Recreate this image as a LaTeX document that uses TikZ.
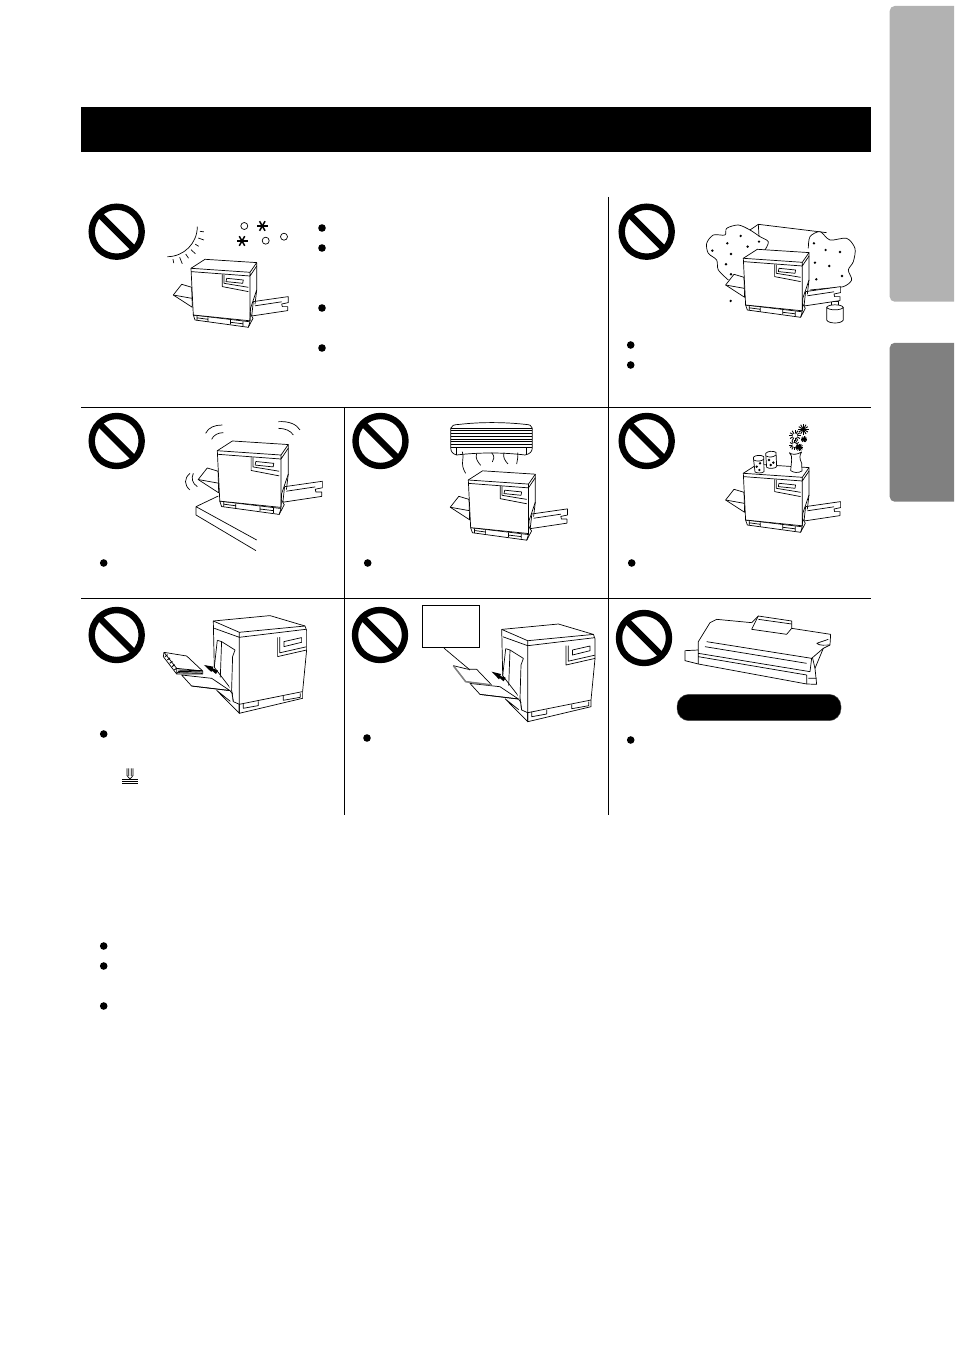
\documentclass[tikz,border=0pt]{standalone}
\definecolor{tablight}{gray}{0.70}
\definecolor{tabdark}{gray}{0.50}
\tikzset{
 sketch/.style = {line width=0.7pt, line join=round},% line art
 rule/.style = {line width=1pt},% cell rules
 bullet/.style = {fill=black, draw=none},
 nosign/.pic = {
    \draw[line width=6.4pt] (0,0) circle[radius=25];
    \draw[line width=6.4pt] (-17.7,-17.7) -- (17.7,17.7);
    },
 burst/.pic = {
    \foreach \a in {0,60,120}
        \draw[line width=1.5pt] (\a:5.5) -- (\a+180:5.5);
    },
 printer/.pic = {
    % trays
    \draw[sketch, fill=white] (62.3,33.3) -- (97.3,28.3) -- (97.3,34.3) -- (90.7,35.7) -- (91.3,38.3)
        -- (96.7,38.3) -- (96.7,42.3) -- (60.7,47.7) -- cycle;
    \draw[sketch] (64,37.5) -- (90.7,33.5);
    \draw[sketch, fill=white] (0.7,19) -- (-9.3,16) -- (-17.7,26.7) -- (1.3,39) -- cycle;
    \draw[sketch] (-17.7,26.7) -- (0.7,30);
    % base and feet
    \draw[sketch, fill=white] (2.3,46.7) -- (4,51.7) -- (57.3,59) -- (62,50) -- (59,45) -- cycle;
    \draw[sketch] (2.3,46.7) -- (59,53.5) -- (57.3,59);
    \draw[sketch] (6,47.5) -- (6,52) (17,49) -- (17,53.5) (6,49.5) -- (17,51)
        (39.5,51.5) -- (39.5,56) (52,53) -- (52,57.5) (39.5,54) -- (52,55.5);
    % body
    \draw[sketch, fill=white] (0,0) -- (14,-9) -- (65.7,-5.7) -- (65.7,21.7) -- (59.5,40) -- (59,52.5)
        -- (2.3,46.7) -- cycle;
    \draw[sketch] (0,0) -- (59,4) -- (65.7,-5.7) (0,3.3) -- (59,7.7) -- (65.7,-2.3)
        (59,4) -- (59,52.5) (65.7,21.7) -- (64,36);
    \draw[sketch] (31.3,6) -- (31.3,18.3) -- (57.3,23.3) (33,6.2) -- (33,15) -- (57.3,19)
        (35.7,10) -- (52.3,11.7) -- (51.7,15) -- (35,13.3) -- cycle;
    },
 printerside/.pic = {
    % feed tray behind the body
    \draw[sketch, fill=white] (-47.7,53.7) -- (-57.7,42.7) -- (-27.7,46) -- (-9.3,58.3) -- cycle;
    \draw[sketch] (-22.7,58) -- (0,81) -- (0,72) (-22.7,58) -- (-9,69);
    % body
    \draw[sketch, fill=white] (-26,-11.3) -- (30.7,-16.7) -- (65.7,-6.3) -- (67.3,-2) -- (67.3,18)
        -- (63.3,59.3) -- (63.3,66) -- (0,81) -- (0,72) -- (-6,69.3) -- (-8,57) -- (-25,35) -- cycle;
    \draw[sketch] (-26,-11.3) -- (0,0) -- (65.7,-6.3) (-25,-4) -- (0,5) -- (66.7,-3)
        (0,0) -- (0,81) (0,72) -- (63.3,59.3);
    % feed opening
    \draw[sketch, fill=white] (-22,8) -- (-17.7,9.3) -- (-4.3,17.7) -- (-6.7,24.3) -- (-7.7,57.7) -- (-6,69.3);
    \draw[sketch] (-22,8) -- (-25,35) (-17.7,9.3) -- (-19,45);
    \draw[sketch] (-47.7,53.7) -- (-9.3,58.3) -- (-6.5,62);
    % feet
    \draw[sketch] (4,71) -- (4,76) -- (19,73.3) -- (19,69) (44,63.7) -- (44,68) -- (61,65) -- (61,61);
    % panel
    \draw[sketch] (38.3,5) -- (38.3,24.3) -- (67.3,17.7) (40.5,4.8) -- (40.5,20.5) -- (67,14.5)
        (44.7,9.3) -- (62.3,5.3) -- (62.3,10) -- (44.7,14.3) -- cycle;
    },
}
\begin{document}
\begin{tikzpicture}[x=1pt,y=-1pt]
\useasboundingbox (0,0) rectangle (954,1351);

% side tabs
\begin{scope}
\clip (0,0) rectangle (954,1351);
\fill[tablight, rounded corners=5pt] (889.7,6) rectangle (965,301.7);
\fill[tabdark, rounded corners=5pt] (889.7,342.8) rectangle (965,501.7);
\end{scope}

% title bar and rules
\fill[black] (81,107) rectangle (871,152);
\draw[rule] (81,407.5) -- (871,407.5);
\draw[rule] (81,598.5) -- (871,598.5);
\draw[rule] (608.5,197) -- (608.5,815);
\draw[rule] (344.5,407.5) -- (344.5,815);

% prohibition signs
\foreach \x/\y in {116.7/231.7,646.7/231.7,116.7/441,380.5/441,646.7/441,116.7/635,380/635,644/638}
    \pic at (\x,\y) {nosign};

% bullets
\foreach \x/\y in {322/228,322/248,322/308,322/348,630.7/345,630.7/365,103.7/563,367.7/563,631.7/563,
                   103.7/734,367/738,630.7/740,103.7/946,103.7/966,103.7/1006}
    \fill[bullet] (\x,\y) circle[radius=3.8];

% sun, snow and steam
\begin{scope}[shift={(167.3,226.7)}]
\draw[sketch] (30,0) arc[start angle=0,end angle=90,radius=30];
\foreach \a/\r in {8/37,20/39,32/37,44/39,56/38,68/40,80/37}
    \draw[sketch] (\a:33) -- (\a:\r);
\end{scope}
\pic at (262.3,226) {burst};
\pic at (242,241) {burst};
\foreach \x/\y in {244.3/226,265.7/240.7,284/236.7}
    \draw[sketch] (\x,\y) circle[radius=3.5];
\pic at (191,268.3) {printer};

% dust and clouds
\begin{scope}[shift={(610,190)},scale=0.3333]
\draw[sketch, fill=white] plot[smooth] coordinates {(355,270) (325,240) (320,210) (295,190) (290,160) (310,135) (345,135)
    (350,115) (385,105) (420,120) (450,140) (475,155) (465,180)};
\draw[sketch] (420,120) -- (445,103) -- (650,128) (445,103) -- (447,140);
\draw[sketch, fill=white] plot[smooth] coordinates {(595,175) (600,140) (630,125) (660,150) (710,145) (735,175) (730,215)
    (715,240) (725,270) (700,290) (650,295) (600,300)};
\foreach \x/\y in {307/182,352/160,392/138,413/170,447/155,363/192,348/223,363/253,362/333,
                   612/160,647/180,690/186,615/218,658/228,696/258,619/268}
    \fill[bullet] (\x,\y) circle[radius=4];
\draw[sketch] (650,352) -- (650,390) .. controls (655,402) and (695,402) .. (700,390) -- (700,352);
\draw[sketch] (650,352) .. controls (655,342) and (695,342) .. (700,352) .. controls (695,362) and (655,362) .. (650,352);
\draw[sketch] (665,345) -- (665,335) -- (685,335) -- (685,345);
\end{scope}
\pic at (743.3,258.3) {printer};

% unsteady table
\begin{scope}[shift={(160,410)},scale=0.3333]
\draw[sketch] (175,258) -- (108,290) -- (108,315) -- (288,422) (108,290) -- (290,390);
\draw[sketch] (137,70) .. controls (145,52) and (165,45) .. (187,45);
\draw[sketch] (155,88) .. controls (160,75) and (175,68) .. (190,68);
\draw[sketch] (355,35) .. controls (385,33) and (410,42) .. (420,60);
\draw[sketch] (355,55) .. controls (375,55) and (392,62) .. (400,75);
\draw[sketch] (90,190) .. controls (72,205) and (72,225) .. (90,240);
\draw[sketch] (100,190) .. controls (93,205) and (97,220) .. (112,230);
\end{scope}
\pic[scale=1.08] at (217.3,450.7) {printer};

% air conditioner
\begin{scope}[shift={(430,410)},scale=0.3333]
\draw[sketch] (62,55) .. controls (65,46) and (70,44) .. (90,43) .. controls (150,36) and (220,36) .. (285,43)
    .. controls (300,44) and (305,46) .. (307,55) -- (307,112) .. controls (307,125) and (300,132) .. (285,135)
    .. controls (220,127) and (145,127) .. (80,135) .. controls (68,132) and (62,125) .. (62,112) -- cycle;
\foreach \y in {55,62,70,80,88,95,103,113}
    \draw[sketch] (62,\y) -- (307,\y);
\draw[sketch] (78,113) -- (78,135) (290,113) -- (290,135);
\draw[sketch] (97,125) .. controls (105,145) and (88,160) .. (107,190);
\draw[sketch] (140,130) .. controls (135,145) and (143,155) .. (152,166);
\draw[sketch] (185,128) .. controls (195,140) and (192,148) .. (187,156);
\draw[sketch] (222,128) .. controls (218,142) and (225,152) .. (234,162);
\draw[sketch] (263,128) .. controls (265,140) and (262,150) .. (260,162);
\end{scope}
\pic[scale=1.02] at (468.3,480) {printer};

% glasses and vase
\pic at (743.3,473.3) {printer};
\begin{scope}[shift={(700,410)},scale=0.3333]
\draw[sketch, fill=white] (160,142) -- (165,186) .. controls (170,190) and (188,190) .. (192,185) -- (191,140)
    .. controls (185,134) and (165,135) .. (160,142) -- cycle;
\draw[sketch] (161,150) .. controls (170,155) and (185,154) .. (191,148);
\draw[sketch, fill=white] (197,130) -- (200,172) .. controls (207,177) and (225,176) .. (230,170) -- (228,127)
    .. controls (220,122) and (203,123) .. (197,130) -- cycle;
\draw[sketch] (198,138) .. controls (207,143) and (220,142) .. (228,135);
\foreach \x/\y in {170/170,180/160,178/180,207/150,220/158,212/165}
    \fill[bullet] (\x,\y) circle[radius=4];
\draw[sketch, fill=white] (268,128) .. controls (275,135) and (290,135) .. (305,126) .. controls (298,135) and (298,145) .. (305,160)
    -- (306,183) .. controls (295,190) and (280,188) .. (272,182) -- (275,150) .. controls (276,140) and (274,134) .. (268,128) -- cycle;
\foreach \x/\y/\r in {310/58/16,285/77/17,312/88/9,283/105/15,298/112/11}
    \foreach \a in {0,30,...,150}
        \draw[line width=0.9pt] (\x,\y) ++(\a:\r) -- ++(\a+180:2*\r);
\foreach \x/\y/\r in {285/77/7,283/105/6}
    \fill[white] (\x,\y) circle[radius=\r];
\end{scope}

% paper stack and feed
\pic at (239.3,632.3) {printerside};
\begin{scope}[shift={(80,600)},scale=0.3333]
\draw[sketch, fill=white] (252,157) -- (320,168) -- (368,213) -- (368,222) -- (290,222) -- (250,170) -- cycle;
\draw[sketch] (252,157) -- (290,205) -- (368,213) (290,205) -- (290,222);
\foreach \t in {0,0.2,...,1}
    \draw[line width=0.9pt] (255+35*\t,170+50*\t) -- ++(8,-6);
\foreach \y in {210,214,218}
    \draw[line width=0.9pt] (295,\y) -- (366,\y+2);
\fill[black] (372,195) -- (400,200) -- (398,205) -- (414,212) -- (408,222) -- (396,212) -- (394,216) -- cycle;
% load limit mark
\draw[sketch] (141,505) -- (141,527) -- (150,537) -- (159,527) -- (159,505) (146,505) -- (146,528) (154,505) -- (154,528);
\draw[line width=1pt] (127,540) -- (173,540) (127,546) -- (173,546) (127,552) -- (173,552);
\end{scope}

% sheet with label box
\pic at (527.7,640.7) {printerside};
\node[draw, line width=1pt, minimum width=57.4pt, minimum height=41.7pt, inner sep=0pt] (label) at (451,626.8) {};
\begin{scope}[shift={(345,600)},scale=0.3333]
\coordinate (sheet) at (375,210);
\draw[sketch, fill=white] (325,197) -- (370,208) -- (395,208) -- (440,255) -- (362,245) -- cycle;
\draw[line width=1.5pt, gray] (325,197) -- (362,245) -- (440,255);
\fill[black] (440,215) -- (468,222) -- (466,228) -- (482,233) -- (476,244) -- (464,234) -- (462,238) -- cycle;
\end{scope}
\draw[sketch] (label.south) ++(-7,0) -- (sheet);

% toner cartridge
\begin{scope}[shift={(610,600)},scale=0.3333]
\draw[sketch] (225,152) -- (225,182) -- (265,192) -- (590,252) -- (620,253) -- (615,205) -- (640,145) -- (660,135)
    -- (662,103) -- (545,85) -- (545,63) -- (445,48) -- (425,68) -- (320,58) -- (300,68) -- (265,125) -- (265,150) -- cycle;
\draw[sketch] (445,48) -- (425,88) -- (530,103) -- (545,85) (445,58) -- (545,72);
\draw[sketch] (290,125) -- (605,175) -- (600,215) -- (265,160) (265,170) -- (590,225) (285,140) -- (590,190)
    (265,150) -- (265,192) (605,175) -- (640,145) (590,225) -- (590,252) (595,235) -- (620,235) (608,175) -- (615,205);
\draw[sketch] (620,130) -- (655,118) (620,130) .. controls (630,138) and (645,135) .. (660,135);
\end{scope}
\node[fill=black, draw=black!70, rounded corners=12pt, minimum width=164pt, minimum height=26.4pt, inner sep=0pt] (tonerbar) at (759,707.5) {};
\end{tikzpicture}
\end{document}
